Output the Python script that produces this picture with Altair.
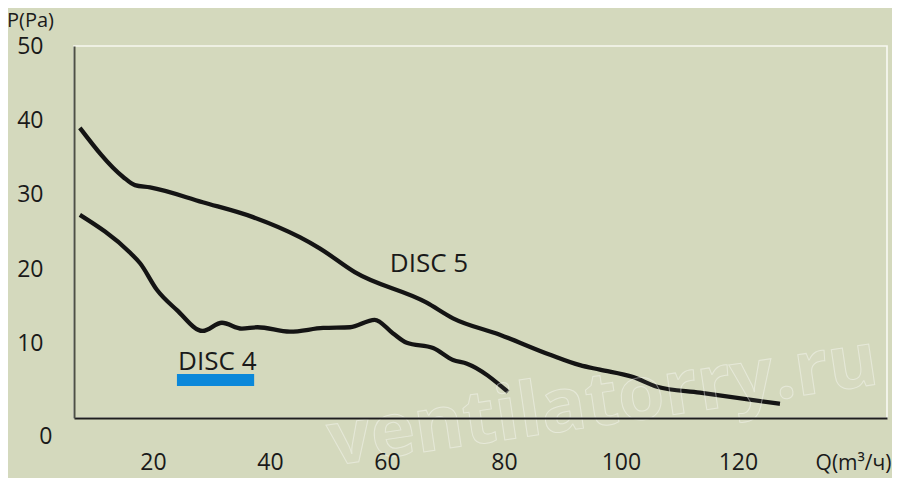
import altair as alt
import pandas as pd

# DISC 5 curve (Q in m3/h, P in Pa)
disc5_q = [7.5, 14.9, 16.9, 19.5, 28.5, 37.1, 45.1, 48.5, 54.5, 66.8, 71.3, 79.3, 87.9, 93.0, 96.4, 102.1, 106.2, 113.5, 127.2]
disc5_p = [39.0, 32.4, 31.3, 31.0, 29.0, 27.0, 24.3, 22.8, 19.6, 15.5, 13.4, 11.2, 8.5, 7.1, 6.5, 5.5, 4.2, 3.4, 1.9]

# DISC 4 curve
disc4_q = [7.5, 16.1, 17.8, 20.7, 24.1, 28.5, 31.8, 35.2, 37.9, 43.4, 49.1, 53.7, 57.9, 61.0, 63.4, 67.9, 71.3, 73.7, 80.7]
disc4_p = [27.3, 22.2, 20.8, 17.2, 14.5, 11.7, 12.8, 12.0, 12.2, 11.6, 12.1, 12.2, 13.2, 11.4, 10.1, 9.4, 7.8, 7.3, 3.5]

# labels
label_text = ["DISC 5", "DISC 4"]
label_q = [60.5, 24.3]
label_p = [19.6, 6.45]

# blue legend bar for DISC 4
bar_q = [24.1]
bar_q2 = [37.3]
bar_p = [4.3]
bar_p2 = [5.9]

x_ticks = [20, 40, 60, 80, 100, 120]
y_ticks = [0, 10, 20, 30, 40, 50]

watermark = ["ventilatorry.ru"]
wm_q = [97.5]
wm_p = [-0.9]

lines_df = pd.DataFrame(
    {"Q": disc5_q + disc4_q,
     "P": disc5_p + disc4_p,
     "series": ["DISC 5"] * len(disc5_q) + ["DISC 4"] * len(disc4_q)}
)
labels_df = pd.DataFrame({"Q": label_q, "P": label_p, "text": label_text})
bar_df = pd.DataFrame({"Q": bar_q, "Q2": bar_q2, "P": bar_p, "P2": bar_p2})
wm_df = pd.DataFrame({"Q": wm_q, "P": wm_p, "text": watermark})

xscale = alt.Scale(domain=[6.5, 145.5], nice=False, zero=False)
yscale = alt.Scale(domain=[0, 50], nice=False)

x_axis = alt.Axis(
    values=x_ticks, ticks=False, grid=False, domainColor="#1e1e1e", domainWidth=2,
    labelFontSize=23, labelColor="#1a1a1a", labelPadding=33, labelFont="Open Sans",
    title="Q(m³/ч)", titleX=779, titleY=45, titleAlign="center", titleBaseline="middle",
    titleFontSize=21, titleFontWeight="normal", titleColor="#1a1a1a", titleFont="Open Sans",
    zindex=1,
)
y_axis = alt.Axis(
    values=y_ticks, ticks=False, grid=False, domainColor="#4d5045", domainWidth=2,
    labelFontSize=23, labelColor="#1a1a1a", labelFont="Open Sans",
    labelPadding={"condition": {"test": "datum.value == 0", "value": 22}, "value": 31},
    labelOffset={"condition": {"test": "datum.value == 0", "value": 18}, "value": 0},
    title="P(Pa)", titleAngle=0, titleX=-44, titleY=-26, titleAlign="center",
    titleBaseline="middle", titleFontSize=20, titleFontWeight="normal",
    titleColor="#1a1a1a", titleFont="Open Sans", zindex=1,
)

X = alt.X("Q:Q", scale=xscale, axis=x_axis)
Y = alt.Y("P:Q", scale=yscale, axis=y_axis)

lines = alt.Chart(lines_df).mark_line(
    interpolate="monotone", color="#141414", strokeWidth=4.3
).encode(x=X, y=Y, detail="series:N")

bar = alt.Chart(bar_df).mark_rect(color="#0a88da").encode(
    x=X, x2="Q2:Q", y=Y, y2="P2:Q",
)

labels = alt.Chart(labels_df).mark_text(
    align="left", baseline="alphabetic", fontSize=26, color="#1a1a1a", font="Open Sans"
).encode(x=X, y=Y, text="text:N")

wm = alt.Chart(wm_df).mark_text(
    align="center", baseline="alphabetic", fontSize=75, fontWeight="bold",
    font="Open Sans", angle=351.5, fill="#ffffff", fillOpacity=0.05,
    stroke="#ffffff", strokeOpacity=0.4, strokeWidth=1,
).encode(x=X, y=Y, text="text:N")

chart = alt.layer(lines, bar, labels, wm).properties(
    width=813, height=372,
    padding={"left": 66, "top": 38, "right": 5, "bottom": 60},
    autosize=alt.AutoSizeParams(type="none"),
    background="#d4d9bd",
).configure(font="Open Sans").configure_view(
    stroke="#f6f7f0", strokeWidth=1.7
)

chart.save("out.html", embed_options={"renderer": "svg", "actions": False})
